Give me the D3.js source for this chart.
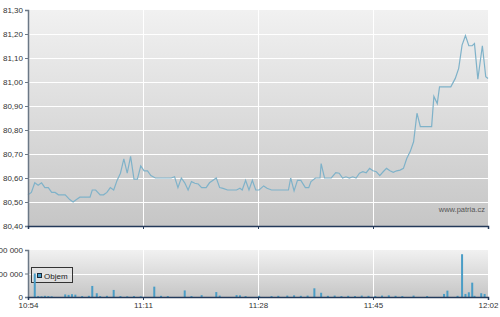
<!DOCTYPE html>
<html>
<head>
<meta charset="utf-8">
<script src="https://cdn.jsdelivr.net/npm/d3@7"></script>
<style>
  html, body { margin: 0; padding: 0; background: #fff; }
  svg { display: block; font-family: "Liberation Sans", Arial, sans-serif; }
</style>
</head>
<body>
<div id="chart"></div>
<script>
// price (30s-ish ticks)
const priceTimes = ["10:54:00","10:54:30","10:55:00","10:55:30","10:56:00","10:56:30","10:57:00","10:57:30","10:58:00","10:58:30",
  "10:59:30","11:00:10","11:00:40","11:01:10","11:01:40","11:03:10","11:03:30","11:04:00","11:04:40","11:05:10",
  "11:05:40","11:06:10","11:06:40","11:07:10","11:07:40","11:08:10","11:08:40","11:09:10","11:09:40","11:10:10",
  "11:10:40","11:11:10","11:11:40","11:12:10","11:12:50","11:15:10","11:15:40","11:16:10","11:16:40","11:17:10",
  "11:17:40","11:18:10","11:18:40","11:19:10","11:19:40","11:20:20","11:20:50","11:21:50","11:22:20","11:22:50",
  "11:23:30","11:24:50","11:25:20","11:25:40","11:26:10","11:26:40","11:27:10","11:27:40","11:28:10","11:28:50",
  "11:29:20","11:30:00","11:32:30","11:32:50","11:33:20","11:33:50","11:34:20","11:35:00","11:35:30","11:35:50",
  "11:36:30","11:37:10","11:37:20","11:37:50","11:38:50","11:39:30","11:40:00","11:40:30","11:41:00","11:41:30",
  "11:42:00","11:42:30","11:43:00","11:43:30","11:44:00","11:44:30","11:45:00","11:45:30","11:46:00","11:46:30",
  "11:47:00","11:47:30","11:48:00","11:48:30","11:49:00","11:49:30","11:50:00","11:50:30","11:51:00","11:51:30",
  "11:52:00","11:53:40","11:54:00","11:54:30","11:54:50","11:56:30","11:57:10","11:57:40","11:58:10","11:58:40",
  "11:59:10","11:59:40","12:00:00","12:00:30","12:01:10","12:01:40","12:02:00"];
const priceValues = [80.53,80.54,80.58,80.57,80.58,80.56,80.56,80.54,80.54,80.53,
  80.53,80.51,80.50,80.51,80.52,80.52,80.55,80.55,80.53,80.53,
  80.54,80.56,80.55,80.59,80.62,80.68,80.62,80.69,80.595,80.595,
  80.65,80.63,80.63,80.61,80.60,80.60,80.605,80.56,80.60,80.58,
  80.55,80.585,80.578,80.575,80.56,80.56,80.58,80.60,80.56,80.557,
  80.55,80.55,80.557,80.55,80.59,80.55,80.59,80.55,80.55,80.567,
  80.557,80.55,80.55,80.60,80.546,80.59,80.59,80.56,80.56,80.585,
  80.60,80.60,80.66,80.60,80.60,80.622,80.62,80.60,80.605,80.60,
  80.605,80.60,80.62,80.626,80.622,80.64,80.63,80.626,80.61,80.626,
  80.64,80.63,80.624,80.63,80.633,80.64,80.682,80.71,80.751,80.87,
  80.814,80.814,80.94,80.91,80.98,80.98,81.015,81.057,81.154,81.193,
  81.151,81.151,81.16,81.012,81.151,81.022,81.015];

// volume
const volTimes = ["10:55:00","10:55:30","10:56:00","10:56:30","10:57:00","10:57:30","10:59:30","11:00:00","11:00:30","11:01:00",
  "11:02:00","11:03:00","11:03:30","11:04:10","11:04:40","11:05:40","11:06:40","11:07:40","11:08:40","11:09:40",
  "11:10:40","11:12:40","11:13:40","11:14:40","11:17:10","11:18:10","11:19:40","11:21:50","11:22:20","11:24:50",
  "11:25:20","11:26:10","11:28:10","11:30:00","11:31:00","11:32:20","11:33:20","11:34:20","11:35:20","11:36:20",
  "11:37:20","11:38:20","11:39:20","11:40:20","11:41:20","11:42:20","11:43:20","11:44:20","11:45:20","11:46:20",
  "11:47:20","11:48:20","11:49:20","11:51:00","11:53:00","11:55:30","11:56:00","11:57:30","11:58:10","11:58:40",
  "11:59:10","11:59:40","12:00:00","12:01:00","12:01:30"];
const volValues = [100000,4000,3000,5000,4000,3000,11000,9000,12000,10000,
  4000,5000,47000,16000,4000,5000,30000,4000,3000,4000,
  3000,44000,5000,4000,28000,4000,8000,21000,6000,8000,
  7000,4000,5000,4000,5000,6000,7000,5000,6000,37000,
  18000,5000,6000,4000,5000,4000,6000,5000,4000,6000,
  7000,5000,4000,6000,4000,13000,27000,5000,182000,13000,
  20000,61000,5000,16000,13000];

const priceTicks = [80.4,80.5,80.6,80.7,80.8,80.9,81.0,81.1,81.2,81.3];
const volTicks = [0,100000,200000];
const timeTicks = ["10:54:00","11:11:00","11:28:00","11:45:00","12:02:00"];

const parse = d3.timeParse("%H:%M:%S");
const price = priceTimes.map((t, i) => ({t: parse(t), v: priceValues[i]}));
const vol = volTimes.map((t, i) => ({t: parse(t), v: volValues[i]}));

const width = 500, height = 317;
const left = 28, right = 488;
const mainTop = 10, mainBottom = 226;
const volTop = 250, volBottom = 297;

const x = d3.scaleTime()
  .domain([parse("10:54:00"), parse("12:02:00")])
  .range([left, right]);
const y = d3.scaleLinear().domain([80.4, 81.3]).range([mainBottom, mainTop]);
const yv = d3.scaleLinear().domain([0, 200000]).range([volBottom, volTop]);

const cz = d3.formatLocale({decimal: ",", thousands: " ", grouping: [3], currency: ["", ""]});

const svg = d3.select("#chart").append("svg")
  .attr("width", width)
  .attr("height", height);

const defs = svg.append("defs");
const grad = defs.append("linearGradient")
  .attr("id", "bg").attr("x1", 0).attr("y1", 0).attr("x2", 0).attr("y2", 1);
grad.append("stop").attr("offset", "0%").attr("stop-color", "#f1f1f1");
grad.append("stop").attr("offset", "100%").attr("stop-color", "#c6c6c6");

// panel backgrounds
svg.append("rect").attr("x", left).attr("y", mainTop)
  .attr("width", right - left).attr("height", mainBottom - mainTop)
  .attr("fill", "url(#bg)");
svg.append("rect").attr("x", left).attr("y", volTop)
  .attr("width", right - left).attr("height", volBottom - volTop)
  .attr("fill", "url(#bg)");

// grid
const tt = timeTicks.map(parse);
function grid(g, ys, yTop, yBot) {
  g.selectAll(".h").data(ys).enter().append("line")
    .attr("x1", left).attr("x2", right)
    .attr("y1", d => Math.round(d) + 0.5).attr("y2", d => Math.round(d) + 0.5)
    .attr("stroke", "#fff").attr("stroke-width", 1);
  g.selectAll(".v").data(tt.slice(1, -1)).enter().append("line")
    .attr("x1", d => Math.round(x(d)) + 0.5).attr("x2", d => Math.round(x(d)) + 0.5)
    .attr("y1", yTop).attr("y2", yBot)
    .attr("stroke", "#fff").attr("stroke-width", 1);
}
grid(svg.append("g"), priceTicks.slice(1, -1).map(y), mainTop, mainBottom);
grid(svg.append("g"), volTicks.slice(1, -1).map(yv), volTop, volBottom);

// watermark
svg.append("text")
  .attr("x", right - 3).attr("y", 212)
  .attr("text-anchor", "end")
  .attr("font-size", "7.5px")
  .attr("fill", "#555")
  .text("www.patria.cz");

// price line
svg.append("path")
  .datum(price)
  .attr("fill", "none")
  .attr("stroke", "#7fb2c9")
  .attr("stroke-width", 1.2)
  .attr("d", d3.line().x(d => x(d.t)).y(d => y(d.v)));

// legend (drawn before the bars, the first bar shows over it)
const lg = svg.append("g");
lg.append("rect").attr("x", 31.5).attr("y", 267.5).attr("width", 41).attr("height", 15)
  .attr("fill", "#e4e4e4").attr("fill-opacity", 0.6).attr("stroke", "#333");
lg.append("rect").attr("x", 37.5).attr("y", 273.5).attr("width", 4).attr("height", 4)
  .attr("fill", "#4a9dc6").attr("stroke", "#1b2b3b");
lg.append("text").attr("x", 44).attr("y", 279).attr("font-size", "8px").attr("fill", "#222").text("Objem");

// volume bars
svg.selectAll(".bar").data(vol).enter().append("rect")
  .attr("class", "bar")
  .attr("x", d => x(d.t) - 1)
  .attr("width", 2)
  .attr("y", d => yv(d.v))
  .attr("height", d => volBottom - yv(d.v))
  .attr("fill", "#4a9dc6");

// axes
function styleAxis(g, color) {
  g.select(".domain").attr("stroke", color).attr("stroke-width", 1.5);
  g.selectAll(".tick line").attr("stroke", color);
  g.selectAll(".tick text").attr("fill", "#333").style("font-size", "8px")
    .style("font-family", "'Liberation Sans', Arial, sans-serif");
}

const ay = svg.append("g").attr("transform", `translate(${left},0)`)
  .call(d3.axisLeft(y).tickValues(priceTicks).tickSize(3).tickPadding(2)
    .tickFormat(cz.format(".2f")));
styleAxis(ay, "#6b7886");

const ayv = svg.append("g").attr("transform", `translate(${left},0)`)
  .call(d3.axisLeft(yv).tickValues(volTicks).tickSize(3).tickPadding(2)
    .tickFormat(cz.format(",d")));
styleAxis(ayv, "#6b7886");

const axm = svg.append("g").attr("transform", `translate(0,${mainBottom})`)
  .call(d3.axisBottom(x).tickValues(tt).tickSize(3).tickFormat(""));
styleAxis(axm, "#243a5a");

const axv = svg.append("g").attr("transform", `translate(0,${volBottom})`)
  .call(d3.axisBottom(x).tickValues(tt).tickSize(3).tickPadding(2)
    .tickFormat(d3.timeFormat("%H:%M")));
styleAxis(axv, "#243a5a");
</script>
</body>
</html>
